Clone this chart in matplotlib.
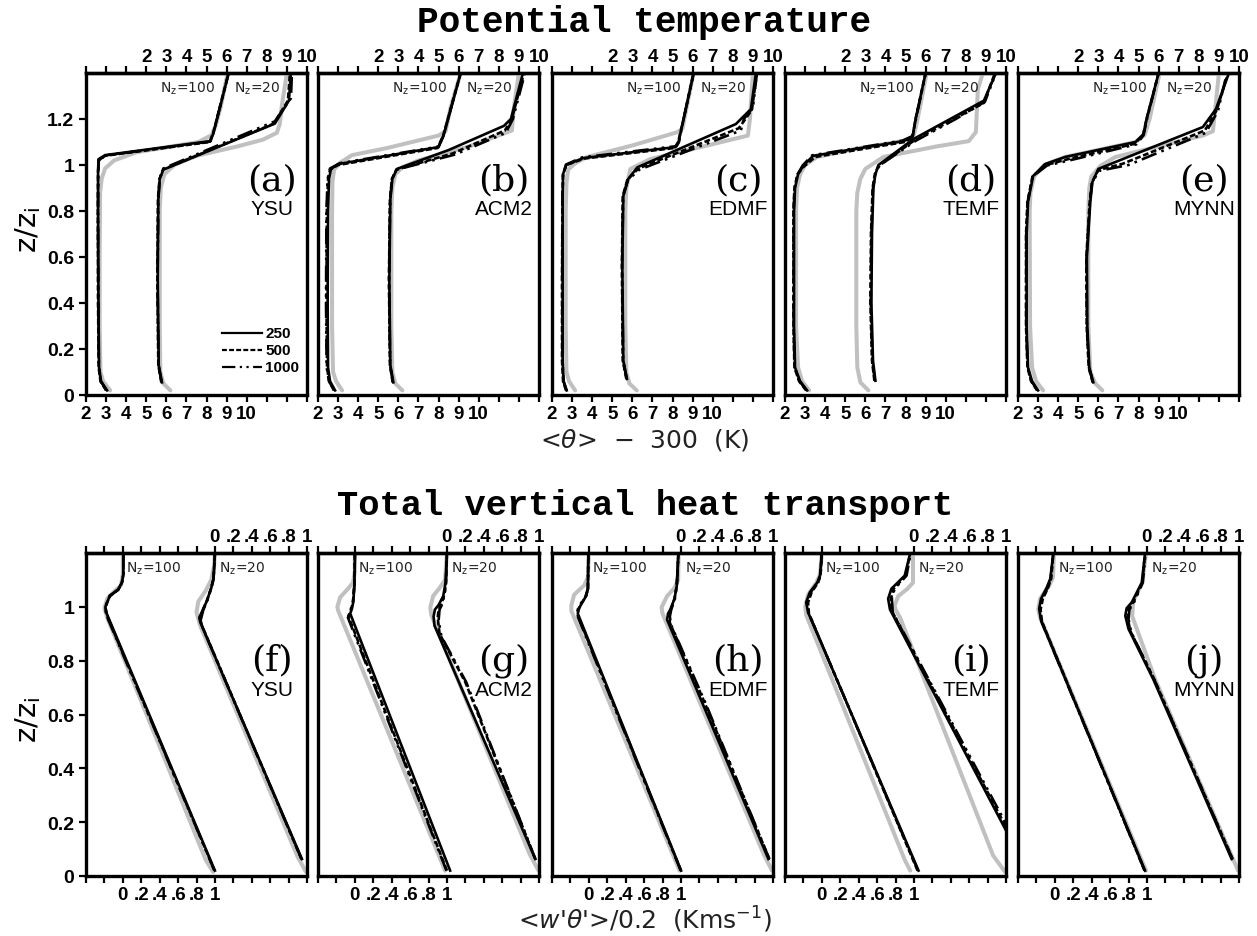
import numpy as np
import matplotlib.pyplot as plt

# ---- potential temperature, x in bottom-axis units (Nz=20 profiles are shifted by +3) ----
names_top = ["YSU", "ACM2", "EDMF", "TEMF", "MYNN"]
letters_top = ["(a)", "(b)", "(c)", "(d)", "(e)"]
names_bot = ["YSU", "ACM2", "EDMF", "TEMF", "MYNN"]
letters_bot = ["(f)", "(g)", "(h)", "(i)", "(j)"]

# panel a (YSU)
a100_les = [(3.2, 0.02), (2.85, 0.06), (2.72, 0.1), (2.68, 0.3), (2.68, 0.6), (2.7, 0.88), (2.78, 0.94),
            (2.95, 0.985), (3.4, 1.02), (4.5, 1.055), (6.2, 1.08), (7.6, 1.1), (8.25, 1.13), (8.45, 1.17),
            (8.7, 1.25), (9.05, 1.4)]
a100_250 = [(3.05, 0.02), (2.75, 0.06), (2.65, 0.12), (2.62, 0.4), (2.6, 0.8), (2.6, 0.97), (2.62, 1.025),
            (2.95, 1.043), (8.2, 1.104), (8.35, 1.14), (9.1, 1.4)]
a100_500 = [(3.0, 0.02), (2.72, 0.06), (2.63, 0.12), (2.6, 0.4), (2.59, 0.8), (2.6, 0.97), (2.63, 1.02),
            (2.95, 1.04), (8.15, 1.1), (8.33, 1.14), (9.1, 1.4)]
a100_1000 = [(3.02, 0.02), (2.73, 0.06), (2.64, 0.12), (2.61, 0.4), (2.6, 0.8), (2.61, 0.97), (2.64, 1.022),
             (3.0, 1.042), (8.18, 1.102), (8.34, 1.14), (9.1, 1.4)]
a20_les = [(6.2, 0.02), (5.85, 0.05), (5.7, 0.1), (5.67, 0.3), (5.67, 0.8), (5.72, 0.9), (5.9, 0.96), (6.4, 1.0),
           (7.5, 1.04), (9.5, 1.08), (10.8, 1.11), (11.5, 1.14), (11.65, 1.18), (11.75, 1.26), (12.0, 1.4)]
a20_250 = [(5.78, 0.055), (5.62, 0.13), (5.57, 0.5), (5.6, 0.85), (5.67, 0.94), (5.85, 0.98), (11.4, 1.18),
           (12.1, 1.28), (12.2, 1.4)]
a20_500 = [(5.75, 0.055), (5.6, 0.13), (5.55, 0.5), (5.58, 0.85), (5.66, 0.94), (5.83, 0.98), (11.35, 1.18),
           (12.05, 1.28), (12.15, 1.4)]
a20_1000 = [(5.76, 0.055), (5.61, 0.13), (5.56, 0.5), (5.6, 0.85), (5.67, 0.94), (5.85, 0.985), (11.4, 1.19),
            (12.2, 1.29), (12.25, 1.4)]

# panel b (ACM2)
b100_les = [(3.2, 0.02), (2.9, 0.06), (2.75, 0.1), (2.7, 0.3), (2.7, 0.8), (2.72, 0.93), (2.8, 0.98), (3.1, 1.01),
            (3.7, 1.043), (5.5, 1.075), (8.0, 1.128), (8.35, 1.147), (8.6, 1.25), (9.1, 1.4)]
b100_250 = [(2.85, 0.02), (2.6, 0.06), (2.5, 0.12), (2.48, 0.4), (2.5, 0.8), (2.55, 0.94), (2.65, 0.983),
            (3.0, 1.004), (8.0, 1.078), (8.25, 1.127), (9.1, 1.4)]
b100_500 = [(2.8, 0.02), (2.55, 0.06), (2.45, 0.12), (2.42, 0.4), (2.44, 0.8), (2.5, 0.94), (2.6, 0.98),
            (3.0, 1.0), (7.95, 1.074), (8.22, 1.125), (9.1, 1.4)]
b100_1000 = [(2.8, 0.02), (2.55, 0.06), (2.43, 0.12), (2.4, 0.4), (2.42, 0.8), (2.48, 0.94), (2.6, 0.985),
             (3.1, 1.008), (8.0, 1.08), (8.25, 1.13), (9.1, 1.4)]
b20_les = [(6.2, 0.02), (5.85, 0.05), (5.7, 0.1), (5.65, 0.3), (5.65, 0.8), (5.7, 0.9), (5.85, 0.96), (6.2, 0.99),
           (7.0, 1.02), (9.5, 1.08), (11.65, 1.15), (11.75, 1.25), (12.0, 1.4)]
b20_250 = [(5.75, 0.055), (5.6, 0.13), (5.55, 0.5), (5.6, 0.85), (5.7, 0.94), (5.93, 0.983), (8.5, 1.065),
           (11.25, 1.17), (11.6, 1.2), (12.2, 1.4)]
b20_500 = [(5.72, 0.055), (5.58, 0.13), (5.53, 0.5), (5.58, 0.85), (5.68, 0.94), (5.9, 0.98), (8.7, 1.05),
           (11.3, 1.15), (11.65, 1.2), (12.25, 1.4)]
b20_1000 = [(5.73, 0.055), (5.59, 0.13), (5.54, 0.5), (5.59, 0.85), (5.69, 0.94), (5.92, 0.98), (8.8, 1.045),
            (11.35, 1.14), (11.7, 1.2), (12.3, 1.4)]

# panel c (EDMF)
c100_les = [(3.15, 0.02), (2.85, 0.06), (2.72, 0.1), (2.68, 0.3), (2.68, 0.8), (2.72, 0.92), (2.8, 0.98),
            (3.2, 1.01), (3.75, 1.035), (6.0, 1.085), (8.25, 1.143), (8.5, 1.16), (8.7, 1.25), (9.05, 1.4)]
c100_250 = [(2.73, 0.02), (2.58, 0.06), (2.53, 0.15), (2.53, 0.5), (2.53, 0.85), (2.55, 0.96), (2.7, 1.0),
            (3.55, 1.03), (8.15, 1.078), (8.3, 1.1), (8.55, 1.2), (9.05, 1.4)]
c100_500 = [(2.7, 0.02), (2.55, 0.06), (2.5, 0.15), (2.5, 0.5), (2.52, 0.85), (2.55, 0.96), (2.72, 1.0),
            (3.6, 1.028), (8.1, 1.074), (8.28, 1.1), (8.55, 1.2), (9.05, 1.4)]
c100_1000 = [(2.72, 0.02), (2.57, 0.06), (2.52, 0.15), (2.51, 0.5), (2.52, 0.85), (2.55, 0.96), (2.7, 1.002),
             (3.5, 1.033), (8.2, 1.082), (8.32, 1.1), (8.55, 1.2), (9.05, 1.4)]
c20_les = [(6.22, 0.02), (5.85, 0.05), (5.7, 0.1), (5.65, 0.3), (5.65, 0.8), (5.7, 0.9), (5.9, 0.983),
           (6.9, 1.026), (9.5, 1.08), (11.75, 1.128), (11.85, 1.2), (12.0, 1.4)]
c20_250 = [(5.73, 0.07), (5.55, 0.15), (5.5, 0.56), (5.55, 0.865), (5.8, 0.94), (6.25, 0.99), (11.15, 1.178),
           (11.9, 1.243), (12.15, 1.4)]
c20_500 = [(5.7, 0.07), (5.52, 0.15), (5.48, 0.56), (5.52, 0.865), (5.75, 0.935), (6.3, 0.985), (11.3, 1.16),
           (11.95, 1.24), (12.2, 1.4)]
c20_1000 = [(5.72, 0.07), (5.54, 0.15), (5.49, 0.56), (5.54, 0.865), (5.78, 0.935), (6.35, 0.98), (11.4, 1.15),
            (11.55, 1.2), (12.0, 1.25), (12.2, 1.4)]

# panel d (TEMF)
d100_les = [(3.2, 0.02), (2.85, 0.06), (2.65, 0.12), (2.55, 0.3), (2.55, 0.8), (2.6, 0.9), (2.75, 0.96),
            (3.0, 1.0), (3.6, 1.035), (5.5, 1.07), (7.9, 1.105), (8.4, 1.125), (8.6, 1.2), (9.05, 1.4)]
d100_250 = [(3.1, 0.02), (2.75, 0.06), (2.5, 0.12), (2.45, 0.3), (2.45, 0.8), (2.5, 0.9), (2.65, 0.96),
            (2.9, 0.996), (3.4, 1.04), (7.9, 1.104), (8.35, 1.122), (8.5, 1.2), (9.0, 1.4)]
d100_500 = [(3.05, 0.02), (2.7, 0.06), (2.47, 0.12), (2.42, 0.3), (2.42, 0.8), (2.47, 0.9), (2.62, 0.96),
            (2.9, 0.99), (3.5, 1.035), (7.95, 1.1), (8.35, 1.12), (8.5, 1.2), (9.0, 1.4)]
d100_1000 = [(3.08, 0.02), (2.72, 0.06), (2.48, 0.12), (2.43, 0.3), (2.43, 0.8), (2.48, 0.9), (2.63, 0.96),
             (2.88, 0.998), (3.35, 1.042), (7.85, 1.106), (8.33, 1.125), (8.52, 1.2), (9.0, 1.4)]
d20_les = [(6.15, 0.02), (5.75, 0.055), (5.6, 0.12), (5.55, 0.3), (5.55, 0.8), (5.6, 0.88), (5.75, 0.94),
           (6.0, 0.983), (6.9, 1.035), (9.5, 1.08), (11.15, 1.104), (11.5, 1.143), (11.6, 1.33), (11.85, 1.4)]
d20_250 = [(6.5, 0.062), (6.38, 0.15), (6.3, 0.4), (6.33, 0.7), (6.4, 0.9), (6.5, 0.96), (6.65, 1.0),
           (8.4, 1.113), (11.9, 1.28), (12.5, 1.4)]
d20_500 = [(6.45, 0.062), (6.33, 0.15), (6.25, 0.4), (6.28, 0.7), (6.36, 0.9), (6.47, 0.96), (6.65, 0.995),
           (8.45, 1.108), (11.9, 1.27), (12.45, 1.4)]
d20_1000 = [(6.47, 0.062), (6.35, 0.15), (6.27, 0.4), (6.3, 0.7), (6.38, 0.9), (6.5, 0.96), (6.7, 0.998),
            (8.5, 1.105), (10.5, 1.2), (11.95, 1.275), (12.5, 1.4)]

# panel e (MYNN)
e100_les = [(3.25, 0.02), (2.9, 0.06), (2.7, 0.12), (2.6, 0.3), (2.58, 0.8), (2.62, 0.88), (2.8, 0.95),
            (3.3, 1.0), (4.35, 1.035), (7.85, 1.1), (8.3, 1.13), (8.55, 1.2), (9.05, 1.4)]
e100_250 = [(3.0, 0.02), (2.7, 0.06), (2.5, 0.12), (2.43, 0.3), (2.43, 0.7), (2.5, 0.84), (2.75, 0.952),
            (3.35, 1.004), (4.35, 1.035), (7.85, 1.1), (8.25, 1.135), (8.4, 1.2), (9.0, 1.4)]
e100_500 = [(2.95, 0.02), (2.65, 0.06), (2.47, 0.12), (2.4, 0.3), (2.4, 0.7), (2.47, 0.84), (2.72, 0.95),
            (3.4, 1.0), (4.6, 1.028), (7.8, 1.092), (8.22, 1.13), (8.4, 1.2), (9.0, 1.4)]
e100_1000 = [(2.97, 0.02), (2.67, 0.06), (2.48, 0.12), (2.41, 0.3), (2.41, 0.7), (2.48, 0.84), (2.73, 0.95),
             (3.45, 0.998), (4.8, 1.025), (7.9, 1.09), (8.25, 1.13), (8.42, 1.2), (9.0, 1.4)]
e20_les = [(6.2, 0.02), (5.85, 0.05), (5.6, 0.1), (5.5, 0.3), (5.5, 0.8), (5.55, 0.9), (5.65, 0.95), (6.1, 0.996),
           (6.85, 1.035), (11.2, 1.128), (11.7, 1.147), (11.85, 1.27), (12.0, 1.4)]
e20_250 = [(5.75, 0.055), (5.55, 0.12), (5.45, 0.3), (5.43, 0.6), (5.6, 0.84), (5.7, 0.925), (6.0, 0.983),
           (6.85, 1.013), (11.2, 1.165), (11.85, 1.243), (12.5, 1.4)]
e20_500 = [(5.72, 0.055), (5.52, 0.12), (5.42, 0.3), (5.4, 0.6), (5.57, 0.84), (5.68, 0.925), (6.0, 0.978),
           (7.2, 1.005), (11.3, 1.15), (11.9, 1.24), (12.45, 1.4)]
e20_1000 = [(5.73, 0.055), (5.53, 0.12), (5.43, 0.3), (5.41, 0.6), (5.58, 0.84), (5.69, 0.925), (6.05, 0.975),
            (7.5, 1.0), (11.35, 1.14), (11.95, 1.235), (12.4, 1.4)]

# ---- total heat flux / 0.2, x in bottom-axis units (Nz=20 profiles shifted by +1) ----
f100_les = [(0.98, 0.015), (0.9, 0.06), (-0.17, 0.96), (-0.2, 0.995), (-0.17, 1.03), (-0.1, 1.055),
            (-0.02, 1.08), (0.0, 1.12), (0.0, 1.2)]
f100_250 = [(1.0, 0.02), (-0.175, 0.975), (-0.19, 1.0), (-0.14, 1.042), (-0.05, 1.065), (-0.01, 1.09),
            (0.005, 1.12), (0.005, 1.2)]
f100_500 = [(0.995, 0.02), (-0.178, 0.972), (-0.19, 1.0), (-0.14, 1.04), (-0.05, 1.064), (-0.01, 1.09),
            (0.005, 1.12), (0.005, 1.2)]
f100_1000 = [(0.995, 0.02), (-0.18, 0.97), (-0.19, 0.998), (-0.145, 1.04), (-0.05, 1.063), (-0.01, 1.09),
             (0.005, 1.12), (0.005, 1.2)]
f20_les = [(1.99, 0.015), (1.9, 0.07), (0.84, 0.93), (0.8, 0.98), (0.82, 1.02), (0.9, 1.06), (0.96, 1.1),
           (0.99, 1.15), (1.0, 1.2)]
f20_250 = [(1.945, 0.063), (0.84, 0.943), (0.83, 0.96), (0.87, 0.99), (0.91, 1.02), (0.96, 1.07), (0.985, 1.104),
           (1.0, 1.2)]
f20_500 = [(1.94, 0.063), (0.86, 0.93), (0.84, 0.955), (0.87, 0.99), (0.91, 1.02), (0.96, 1.07), (0.985, 1.104),
           (1.0, 1.2)]
f20_1000 = [(1.94, 0.063), (0.87, 0.92), (0.845, 0.95), (0.875, 0.99), (0.915, 1.02), (0.96, 1.07), (0.985, 1.104),
            (1.0, 1.2)]

g100_les = [(0.98, 0.02), (-0.18, 0.985), (-0.19, 1.0), (-0.16, 1.035), (-0.08, 1.065), (-0.02, 1.09),
            (0.0, 1.13), (0.0, 1.2)]
g100_250 = [(1.035, 0.02), (-0.05, 0.975), (-0.03, 0.995), (-0.016, 1.02), (-0.005, 1.08), (0.002, 1.2)]
g100_500 = [(1.0, 0.02), (-0.07, 0.965), (-0.04, 0.99), (-0.02, 1.02), (-0.005, 1.08), (0.0, 1.2)]
g100_1000 = [(0.995, 0.02), (-0.075, 0.96), (-0.045, 0.99), (-0.02, 1.02), (-0.005, 1.08), (0.0, 1.2)]
g20_les = [(1.995, 0.02), (1.9, 0.08), (0.83, 0.97), (0.82, 0.998), (0.85, 1.04), (0.92, 1.07), (0.98, 1.1),
           (1.0, 1.2)]
g20_250 = [(1.96, 0.063), (0.865, 0.93), (0.855, 0.964), (0.87, 0.99), (0.91, 1.007), (0.96, 1.04),
           (0.985, 1.09), (1.0, 1.2)]
g20_500 = [(1.96, 0.063), (1.2, 0.72), (0.92, 0.9), (0.9, 0.96), (0.91, 0.99), (0.94, 1.01), (0.975, 1.05),
           (0.99, 1.09), (1.0, 1.2)]
g20_1000 = [(1.96, 0.063), (1.21, 0.72), (0.94, 0.89), (0.91, 0.95), (0.92, 0.99), (0.95, 1.01), (0.975, 1.05),
            (0.99, 1.09), (1.0, 1.2)]

h100_les = [(0.985, 0.02), (-0.19, 0.985), (-0.19, 1.005), (-0.16, 1.045), (-0.05, 1.08), (-0.01, 1.11),
            (0.0, 1.2)]
h100_250 = [(1.002, 0.02), (-0.12, 0.975), (-0.11, 0.99), (-0.09, 1.005), (-0.03, 1.04), (-0.01, 1.067),
            (-0.005, 1.2)]
h100_500 = [(1.0, 0.02), (-0.125, 0.972), (-0.115, 0.99), (-0.095, 1.005), (-0.03, 1.04), (-0.01, 1.067),
            (-0.005, 1.2)]
h100_1000 = [(0.998, 0.02), (-0.128, 0.97), (-0.12, 0.99), (-0.1, 1.005), (-0.035, 1.04), (-0.01, 1.067),
             (-0.005, 1.2)]
h20_les = [(1.99, 0.02), (1.9, 0.08), (0.8, 0.975), (0.79, 0.998), (0.85, 1.04), (0.93, 1.07), (0.97, 1.1),
           (0.975, 1.2)]
h20_250 = [(1.95, 0.063), (0.85, 0.952), (0.86, 0.975), (0.885, 0.99), (0.93, 1.03), (0.955, 1.078), (0.973, 1.2)]
h20_500 = [(1.96, 0.063), (1.25, 0.65), (0.88, 0.94), (0.875, 0.97), (0.89, 0.99), (0.93, 1.03), (0.955, 1.078),
           (0.973, 1.2)]
h20_1000 = [(1.96, 0.063), (1.27, 0.64), (0.89, 0.935), (0.88, 0.965), (0.895, 0.99), (0.935, 1.03),
            (0.955, 1.078), (0.973, 1.2)]

i100_les = [(0.96, 0.02), (0.9, 0.06), (-0.17, 0.97), (-0.18, 1.0), (-0.15, 1.045), (-0.06, 1.09), (-0.02, 1.12),
            (0.0, 1.2)]
i100_250 = [(1.05, 0.02), (-0.15, 0.98), (-0.17, 1.017), (-0.13, 1.054), (-0.05, 1.09), (-0.02, 1.116), (0.0, 1.2)]
i100_500 = [(1.04, 0.02), (-0.14, 0.975), (-0.15, 1.015), (-0.11, 1.055), (-0.04, 1.09), (-0.015, 1.116),
            (0.0, 1.2)]
i100_1000 = [(1.045, 0.02), (-0.145, 0.978), (-0.16, 1.016), (-0.12, 1.055), (-0.045, 1.09), (-0.015, 1.116),
             (0.0, 1.2)]
i20_les = [(1.99, 0.015), (1.86, 0.076), (0.85, 0.96), (0.8, 0.99), (0.79, 1.005), (0.83, 1.04), (0.93, 1.067),
           (0.99, 1.09), (0.99, 1.2)]
i20_250 = [(2.06, 0.13), (0.74, 0.99), (0.72, 1.03), (0.755, 1.067), (0.9, 1.116), (0.96, 1.2)]
i20_500 = [(2.08, 0.13), (0.76, 0.985), (0.75, 1.03), (0.78, 1.067), (0.91, 1.116), (0.96, 1.2)]
i20_1000 = [(2.1, 0.13), (0.77, 0.98), (0.76, 1.03), (0.79, 1.067), (0.92, 1.116), (0.965, 1.2)]

j100_les = [(0.99, 0.02), (-0.16, 0.96), (-0.18, 0.99), (-0.16, 1.03), (-0.06, 1.08), (-0.02, 1.11), (-0.01, 1.2)]
j100_250 = [(0.98, 0.02), (-0.15, 0.95), (-0.17, 0.993), (-0.15, 1.03), (-0.09, 1.07), (-0.05, 1.104),
            (-0.016, 1.2)]
j100_500 = [(0.975, 0.02), (-0.14, 0.945), (-0.155, 0.99), (-0.13, 1.03), (-0.075, 1.07), (-0.04, 1.104),
            (-0.016, 1.2)]
j100_1000 = [(0.975, 0.02), (-0.145, 0.945), (-0.16, 0.99), (-0.14, 1.03), (-0.08, 1.07), (-0.045, 1.104),
             (-0.016, 1.2)]
j20_les = [(1.99, 0.02), (1.09, 0.73), (0.84, 0.965), (0.85, 1.02), (0.95, 1.09), (0.99, 1.2)]
j20_250 = [(1.92, 0.063), (1.07, 0.73), (0.8, 0.918), (0.765, 0.967), (0.78, 0.995), (0.836, 1.017),
           (0.945, 1.09), (0.98, 1.2)]
j20_500 = [(1.93, 0.063), (1.08, 0.73), (0.82, 0.91), (0.79, 0.96), (0.8, 0.99), (0.85, 1.017), (0.95, 1.09),
           (0.98, 1.2)]
j20_1000 = [(1.93, 0.063), (1.08, 0.73), (0.83, 0.905), (0.8, 0.955), (0.81, 0.99), (0.86, 1.017), (0.955, 1.09),
            (0.985, 1.2)]

top_sets = [
    (a100_les, a100_250, a100_500, a100_1000, a20_les, a20_250, a20_500, a20_1000),
    (b100_les, b100_250, b100_500, b100_1000, b20_les, b20_250, b20_500, b20_1000),
    (c100_les, c100_250, c100_500, c100_1000, c20_les, c20_250, c20_500, c20_1000),
    (d100_les, d100_250, d100_500, d100_1000, d20_les, d20_250, d20_500, d20_1000),
    (e100_les, e100_250, e100_500, e100_1000, e20_les, e20_250, e20_500, e20_1000),
]
bot_sets = [
    (f100_les, f100_250, f100_500, f100_1000, f20_les, f20_250, f20_500, f20_1000),
    (g100_les, g100_250, g100_500, g100_1000, g20_les, g20_250, g20_500, g20_1000),
    (h100_les, h100_250, h100_500, h100_1000, h20_les, h20_250, h20_500, h20_1000),
    (i100_les, i100_250, i100_500, i100_1000, i20_les, i20_250, i20_500, i20_1000),
    (j100_les, j100_250, j100_500, j100_1000, j20_les, j20_250, j20_500, j20_1000),
]

th_ticks = list(range(2, 14))
th_bottom_labels = [str(v) for v in range(2, 11)] + ["", "", ""]
th_top_labels = ["", "", ""] + [str(v) for v in range(2, 11)]
fx_ticks = [round(-0.4 + 0.2 * k, 1) for k in range(13)]
fx_names = ["0", ".2", ".4", ".6", ".8", "1"]
fx_bottom_labels = ["", ""] + fx_names + [""] * 5
fx_top_labels = [""] * 7 + fx_names

GRAY = "#c0c0c0"
STYLES = {"250": "-", "500": (0, (2.2, 1.0)), "1000": (0, (6, 2, 1, 2, 1, 2))}
TICKFONT = dict(family="Liberation Sans", weight="bold", size=13.5)

fig = plt.figure(figsize=(12.57, 9.37), dpi=100)
lefts = [86, 318, 552, 785, 1018]


def draw_profiles(ax, sets):
    les100, r250, r500, r1000, les20, s250, s500, s1000 = sets
    for les in (les100, les20):
        x, z = np.array(les).T
        ax.plot(x, z, color=GRAY, lw=2.9, zorder=1, solid_capstyle="round")
    for runs in ((r1000, r500, r250), (s1000, s500, s250)):
        for prof, key in zip(runs, ("1000", "500", "250")):
            x, z = np.array(prof).T
            ax.plot(x, z, color="black", lw=1.9, ls=STYLES[key], zorder=2)


def style_axes(ax, ticks, bot_labels, top_labels, xlim, ylim, yticks, ylabels, first):
    ax.set_xlim(*xlim)
    ax.set_ylim(*ylim)
    for s in ax.spines.values():
        s.set_linewidth(2.4)
    ax.set_xticks(ticks)
    ax.set_xticklabels(bot_labels, fontdict=TICKFONT)
    ax.tick_params(axis="x", direction="out", length=5, width=1.6, pad=2)
    sec = ax.secondary_xaxis("top")
    sec.set_xticks(ticks)
    sec.set_xticklabels(top_labels, fontdict=TICKFONT)
    sec.tick_params(direction="out", length=5, width=1.6, pad=1)
    sec.spines["top"].set_linewidth(2.4)
    if first:
        ax.set_yticks(yticks)
        ax.set_yticklabels(ylabels, fontdict=dict(TICKFONT, size=14))
        ax.tick_params(axis="y", direction="out", length=5, width=1.6)
    else:
        ax.set_yticks([])


def annotate(ax, letter, name, n100x, n20x):
    ax.text(0.842, 0.67, letter, transform=ax.transAxes, ha="center", va="center",
            family="DejaVu Serif", size=26)
    ax.text(0.842, 0.578, name, transform=ax.transAxes, ha="center", va="center",
            family="Liberation Sans", size=15)
    ax.text(n100x, 0.953, "N$_\\mathrm{z}$=100", transform=ax.transAxes, ha="center", va="center",
            family="DejaVu Sans", size=10, color="#222222")
    ax.text(n20x, 0.953, "N$_\\mathrm{z}$=20", transform=ax.transAxes, ha="center", va="center",
            family="DejaVu Sans", size=10, color="#222222")


for k in range(5):
    ax = fig.add_axes([lefts[k] / 1257, 1 - 396 / 937, 221 / 1257, 322 / 937])
    draw_profiles(ax, top_sets[k])
    style_axes(ax, th_ticks, th_bottom_labels, th_top_labels, (2, 13), (0, 1.4),
               [0, 0.2, 0.4, 0.6, 0.8, 1.0, 1.2], ["0", "0.2", "0.4", "0.6", "0.8", "1", "1.2"], k == 0)
    annotate(ax, letters_top[k], names_top[k], 0.46, 0.773)
    if k == 0:
        for yy, key in zip((0.193, 0.14, 0.087), ("250", "500", "1000")):
            ax.plot([0.615, 0.796], [yy, yy], transform=ax.transAxes, color="black", lw=1.6, ls=STYLES[key])
            ax.text(0.81, yy, key, transform=ax.transAxes, ha="left", va="center",
                    family="Liberation Sans", weight="bold", size=11)

for k in range(5):
    ax = fig.add_axes([lefts[k] / 1257, 1 - 877 / 937, 221 / 1257, 323 / 937])
    draw_profiles(ax, bot_sets[k])
    style_axes(ax, fx_ticks, fx_bottom_labels, fx_top_labels, (-0.4, 2.0), (0, 1.2),
               [0, 0.2, 0.4, 0.6, 0.8, 1.0], ["0", "0.2", "0.4", "0.6", "0.8", "1"], k == 0)
    annotate(ax, letters_bot[k], names_bot[k], 0.305, 0.705)

fig.text(0.512, 1 - 22 / 937, "Potential temperature", ha="center", va="center",
         family="Liberation Mono", weight="bold", size=26)
fig.text(0.513, 1 - 505 / 937, "Total vertical heat transport", ha="center", va="center",
         family="Liberation Mono", weight="bold", size=25.5)
fig.text(0.513, 1 - 440 / 937, "<$\\theta$>  \u2212  300  (K)", ha="center", va="center",
         family="DejaVu Sans", size=18, color="#222222")
fig.text(0.513, 1 - 920 / 937, "<$w$'$\\theta$'>/0.2  (Kms$^{-1}$)", ha="center", va="center",
         family="DejaVu Sans", size=18, color="#222222")
fig.text(0.022, 1 - 230 / 937, "z/z$_\\mathrm{i}$", rotation=90, ha="center", va="center",
         family="DejaVu Sans", size=21)
fig.text(0.022, 1 - 720 / 937, "z/z$_\\mathrm{i}$", rotation=90, ha="center", va="center",
         family="DejaVu Sans", size=21)

fig.savefig("out.png", dpi=100)
